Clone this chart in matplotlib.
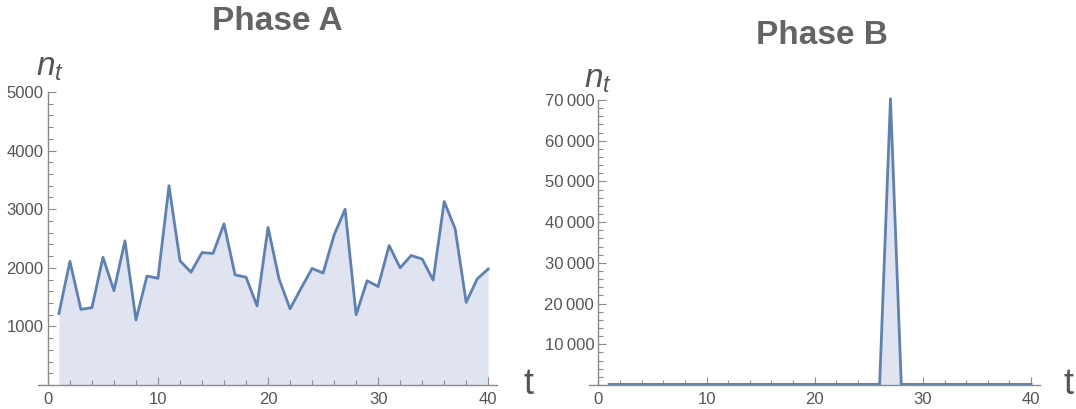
import matplotlib
matplotlib.use("Agg")
import matplotlib.pyplot as plt
from matplotlib.ticker import MultipleLocator, FuncFormatter

# data
t = list(range(1, 41))
phase_a = [1220, 2110, 1290, 1320, 2180, 1610, 2460, 1110, 1860, 1820,
           3400, 2120, 1925, 2260, 2245, 2750, 1880, 1840, 1350, 2690,
           1810, 1300, 1650, 1990, 1910, 2560, 3000, 1200, 1780, 1680,
           2380, 2000, 2210, 2150, 1790, 3130, 2665, 1410, 1810, 1980]
phase_b = [150, 150, 150, 150, 150, 150, 150, 150, 150, 150,
           150, 150, 150, 150, 150, 150, 150, 150, 150, 150,
           150, 150, 150, 150, 150, 150, 70300, 150, 150, 150,
           150, 150, 150, 150, 150, 150, 150, 150, 150, 150]

LINE = "#5E81B5"
FILL = "#DFE4F0"
GRAY = "#555555"
AXC = "#8c8c8c"

plt.rcParams["font.family"] = ["Liberation Sans", "DejaVu Sans"]
plt.rcParams["mathtext.fontset"] = "custom"
plt.rcParams["mathtext.it"] = "Liberation Sans:italic"
plt.rcParams["mathtext.rm"] = "Liberation Sans"

fig = plt.figure(figsize=(10.76, 4.09), dpi=100)


def style(ax, xlim, ylim, ymaj, ymin, fmt):
    for s in ("top", "right"):
        ax.spines[s].set_visible(False)
    ax.spines["left"].set_position(("data", 0))
    ax.spines["bottom"].set_position(("data", 0))
    for s in ("left", "bottom"):
        ax.spines[s].set_color(AXC)
        ax.spines[s].set_linewidth(1.0)
    ax.set_xticks([0, 10, 20, 30, 40])
    ax.xaxis.set_minor_locator(MultipleLocator(2))
    ax.set_yticks([v for v in range(ymaj, ylim[1] + 1, ymaj)])
    ax.yaxis.set_minor_locator(MultipleLocator(ymin))
    ax.yaxis.set_major_formatter(FuncFormatter(fmt))
    ax.tick_params(which="both", direction="in", colors=AXC, labelcolor=GRAY,
                   labelsize=12, width=0.8)
    ax.tick_params(which="major", length=6)
    ax.tick_params(which="minor", length=3.5)
    ax.tick_params(axis="x", pad=5)
    ax.tick_params(axis="y", pad=3)
    ax.set_xlim(*xlim)
    ax.set_ylim(*ylim)


ax1 = fig.add_axes([38 / 1076, 24 / 409, 459 / 1076, 293 / 409])
ax1.fill_between(t, phase_a, 0, color=FILL, lw=0)
ax1.plot(t, phase_a, color=LINE, lw=2)
style(ax1, (-0.9, 40.8), (0, 5000), 1000, 200, lambda v, p: f"{int(v)}")

ax2 = fig.add_axes([589 / 1076, 24 / 409, 451 / 1076, 285 / 409])
ax2.fill_between(t, phase_b, 0, color=FILL, lw=0)
ax2.plot(t, phase_b, color=LINE, lw=2, clip_on=False)
style(ax2, (-0.86, 40.82), (0, 70000), 10000, 2000,
      lambda v, p: f"{int(v):,}".replace(",", "\u2009"))

# titles and axis labels
fig.text(277 / 1076, 1 - 22 / 409, "Phase A", ha="center", va="center",
         fontsize=24, fontweight="bold", color="#646464")
fig.text(822 / 1076, 1 - 35 / 409, "Phase B", ha="center", va="center",
         fontsize=24, fontweight="bold", color="#646464")
for x, y in [(50, 76), (598, 88)]:
    fig.text(x / 1076, 1 - y / 409, r"$n_t$", ha="center", va="baseline",
             fontsize=24, color=GRAY)
for x in (528, 1068):
    fig.text(x / 1076, 1 - 385 / 409, "t", ha="center", va="center",
             fontsize=26, color=GRAY)

fig.savefig("out.png", dpi=100)
